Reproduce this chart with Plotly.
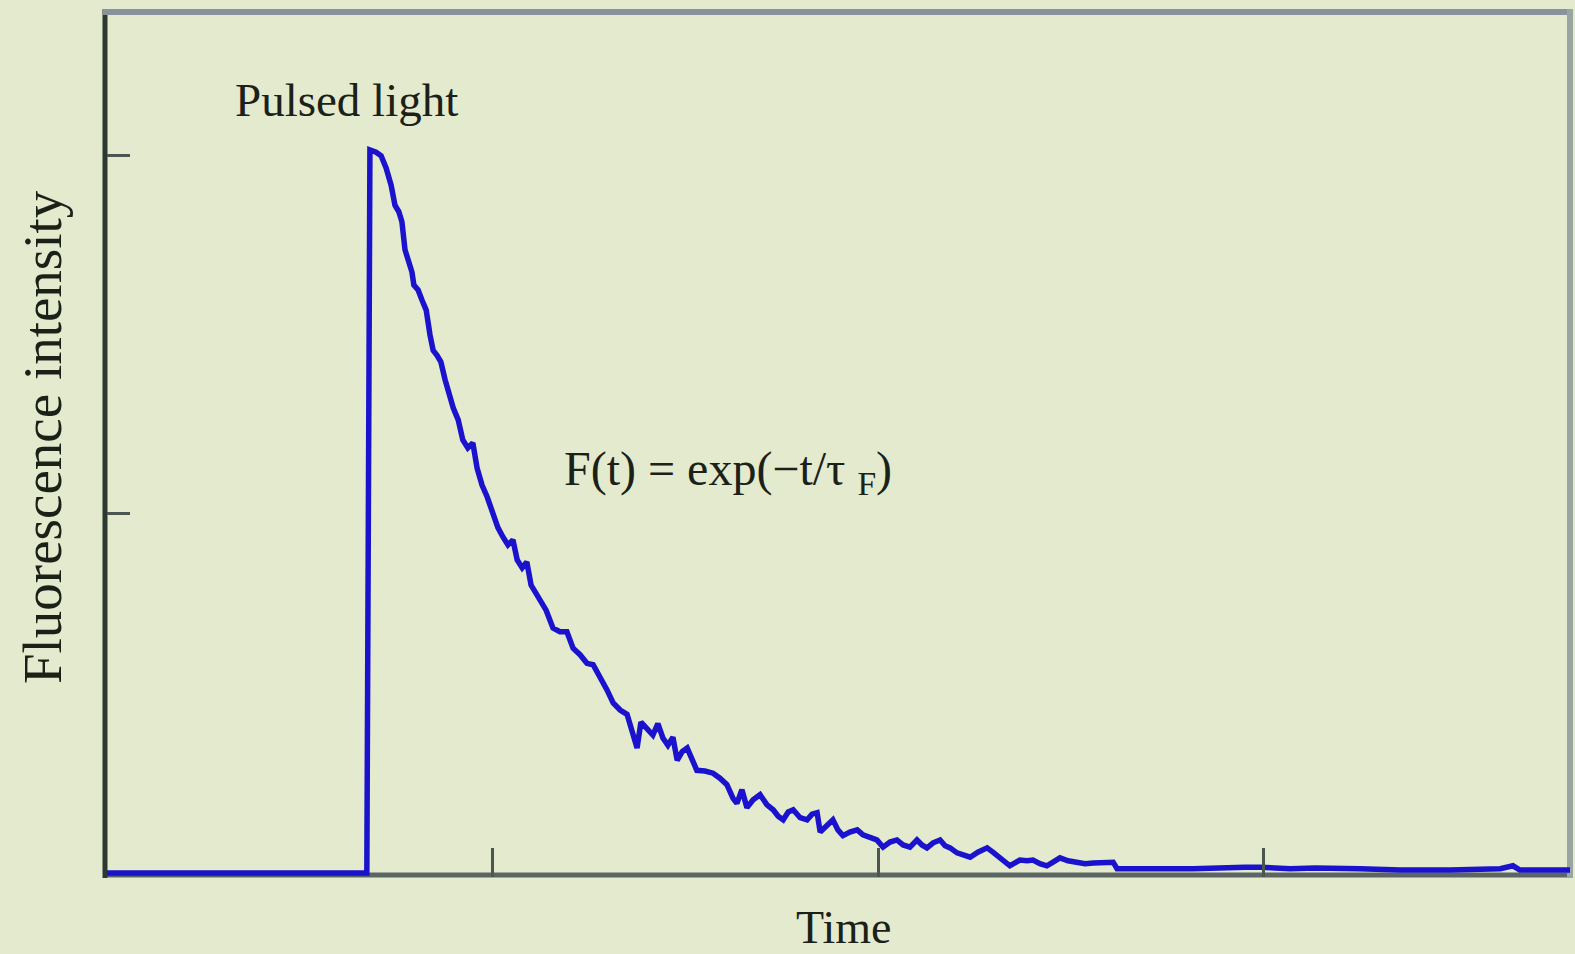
import plotly.graph_objects as go

# Fluorescence decay after a light pulse (arbitrary units)
time = [
    0.000, 0.674, 0.682, 0.698, 0.711, 0.724, 0.737, 0.747, 0.757, 0.765,
    0.773, 0.783, 0.791, 0.796, 0.807, 0.817, 0.828, 0.838, 0.846, 0.856,
    0.866, 0.877, 0.887, 0.898, 0.911, 0.923, 0.936, 0.949, 0.960, 0.973,
    0.986, 0.999, 1.014, 1.027, 1.040, 1.053, 1.064, 1.077, 1.089, 1.100,
    1.110, 1.123, 1.139, 1.157, 1.175, 1.193, 1.209, 1.227, 1.245, 1.261,
    1.279, 1.297, 1.313, 1.331, 1.349, 1.364, 1.375, 1.385, 1.401, 1.416,
    1.429, 1.442, 1.455, 1.468, 1.479, 1.492, 1.505, 1.518, 1.530, 1.551,
    1.572, 1.590, 1.608, 1.624, 1.634, 1.647, 1.660, 1.676, 1.694, 1.712,
    1.728, 1.741, 1.754, 1.767, 1.780, 1.798, 1.816, 1.829, 1.842, 1.850,
    1.865, 1.883, 1.896, 1.909, 1.927, 1.946, 1.961, 1.979, 1.997, 2.013,
    2.031, 2.049, 2.065, 2.083, 2.101, 2.114, 2.127, 2.143, 2.161, 2.174,
    2.187, 2.205, 2.221, 2.239, 2.259, 2.283, 2.298, 2.316, 2.329, 2.342,
    2.355, 2.368, 2.387, 2.402, 2.420, 2.438, 2.454, 2.472, 2.493, 2.516,
    2.537, 2.558, 2.584, 2.610, 2.620, 2.680, 2.732, 2.817, 2.861, 2.905,
    2.952, 2.991, 3.069, 3.134, 3.198, 3.250, 3.354, 3.484, 3.614, 3.647,
    3.665, 3.795,
]
intensity = [
    0.000, 0.000, 1.007, 1.004, 0.999, 0.982, 0.958, 0.930, 0.921, 0.907,
    0.868, 0.851, 0.837, 0.819, 0.812, 0.798, 0.784, 0.749, 0.728, 0.721,
    0.712, 0.687, 0.666, 0.648, 0.631, 0.603, 0.592, 0.599, 0.564, 0.540,
    0.524, 0.503, 0.481, 0.468, 0.457, 0.464, 0.436, 0.425, 0.433, 0.401,
    0.391, 0.380, 0.366, 0.341, 0.336, 0.336, 0.313, 0.304, 0.292, 0.290,
    0.273, 0.255, 0.237, 0.227, 0.221, 0.192, 0.174, 0.210, 0.202, 0.192,
    0.208, 0.188, 0.178, 0.189, 0.157, 0.169, 0.174, 0.155, 0.143, 0.142,
    0.139, 0.132, 0.123, 0.104, 0.097, 0.116, 0.091, 0.102, 0.109, 0.095,
    0.088, 0.079, 0.074, 0.085, 0.088, 0.077, 0.074, 0.082, 0.084, 0.057,
    0.065, 0.074, 0.060, 0.052, 0.057, 0.060, 0.053, 0.050, 0.046, 0.036,
    0.043, 0.046, 0.039, 0.036, 0.046, 0.039, 0.035, 0.042, 0.046, 0.038,
    0.035, 0.028, 0.025, 0.022, 0.029, 0.035, 0.029, 0.022, 0.015, 0.010,
    0.014, 0.018, 0.017, 0.018, 0.013, 0.010, 0.015, 0.021, 0.017, 0.014,
    0.013, 0.014, 0.014, 0.015, 0.006, 0.007, 0.006, 0.006, 0.007, 0.007,
    0.008, 0.008, 0.006, 0.007, 0.007, 0.006, 0.004, 0.004, 0.006, 0.010,
    0.004, 0.004,
]

x_ticks = [1, 2, 3]
y_ticks = [0.5, 1.0]

W, H = 1575, 954
L, R, T, B = 107, 5, 14, 77
PW, PH = W - L - R, H - T - B

BG = "#e3eace"
INK = "#1c2118"
FONT = "Liberation Serif, Times New Roman, serif"


def px(xp):
    return (xp - L) / PW


def py(yp):
    return (H - B - yp) / PH


fig = go.Figure()
fig.add_trace(go.Scatter(
    x=time, y=intensity, mode="lines",
    line=dict(color="#1a12cc", width=5.5),
    hoverinfo="skip", showlegend=False,
))

frame = [
    # bottom, left, top, right borders
    dict(x0=px(103), x1=px(1573), y0=py(875), y1=py(875), color="#5b6563", w=5),
    dict(x0=px(105), x1=px(105), y0=py(9), y1=py(878), color="#2e3833", w=5),
    dict(x0=px(103), x1=px(1573), y0=py(12), y1=py(12), color="#8a939c", w=6),
    dict(x0=px(1570), x1=px(1570), y0=py(9), y1=py(878), color="#9aa4a0", w=6),
]
for f in frame:
    fig.add_shape(type="line", xref="paper", yref="paper",
                  x0=f["x0"], x1=f["x1"], y0=f["y0"], y1=f["y1"],
                  line=dict(color=f["color"], width=f["w"]), layer="below")

annotations = [
    dict(text="Pulsed light", x=px(346), y=py(100), size=47, angle=0),
    dict(text="F(t) = exp(−t/τ <sub>F</sub>)", x=px(728), y=py(472), size=48, angle=0),
    dict(text="Time", x=px(843), y=py(927), size=46, angle=0),
    dict(text="Fluorescence intensity", x=px(42), y=py(437), size=55, angle=-90),
]
for a in annotations:
    fig.add_annotation(text=a["text"], x=a["x"], y=a["y"], xref="paper", yref="paper",
                       showarrow=False, textangle=a["angle"],
                       font=dict(family=FONT, size=a["size"], color=INK),
                       xanchor="center", yanchor="middle")

fig.update_xaxes(range=[0, 3.795], tickvals=x_ticks, ticks="inside", ticklen=29,
                 tickwidth=2.5, tickcolor="#4c5651", showticklabels=False,
                 showgrid=False, zeroline=False, showline=False)
fig.update_yaxes(range=[-0.0056, 1.1964], tickvals=y_ticks, ticks="inside", ticklen=23,
                 tickwidth=2.5, tickcolor="#4c5651", showticklabels=False,
                 showgrid=False, zeroline=False, showline=False)

fig.update_layout(
    width=W, height=H,
    margin=dict(l=L, r=R, t=T, b=B, pad=0),
    paper_bgcolor=BG, plot_bgcolor="rgba(0,0,0,0)",
    showlegend=False,
)

fig.write_html("out.html")
